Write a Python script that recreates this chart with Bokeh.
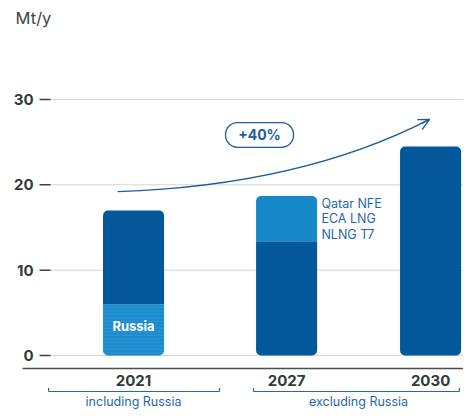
from bokeh.plotting import figure
from bokeh.models import Range1d, Arrow, OpenHead
from bokeh.core.properties import value
from bokeh.embed import file_html
from bokeh.resources import INLINE

# ---- data ----
years = ["2021", "2027", "2030"]
russia = [6.0, 0.0, 0.0]
existing = [11.0, 13.4, 24.5]
new_projects = [0.0, 5.3, 0.0]
y_ticks = [0, 10, 20, 30]
unit_label = "Mt/y"
growth_label = "+40%"
russia_label = "Russia"
new_labels = ["Qatar NFE", "ECA LNG", "NLNG T7"]
groups = ["including Russia", "excluding Russia"]
group_members = [["2021"], ["2027", "2030"]]

# ---- style ----
FONT = "Inter"
DARK = "#02589b"
LIGHT = "#1588c8"
RUSSIA = "#1a8bcc"
TXT = "#2f3b3b"
BLUE_TXT = "#1e67ad"
GRID = "#a8a8a8"

# layout: category positions (slightly wider gap between groups)
GROUP_GAP = 0.063
pos = [0.0, 1.0 + GROUP_GAP, 2.0 + GROUP_GAP]
BAR_W = 0.424
R = 5

X_MIN, X_MAX = -0.924, 2.2917
p = figure(width=463, height=410, x_range=Range1d(X_MIN, X_MAX),
           y_range=Range1d(-6.446, 41.6), min_border=0,
           x_axis_location=None, y_axis_location=None,
           toolbar_location=None, output_backend="svg")
p.grid.visible = False
p.outline_line_color = None
p.background_fill_color = "white"

X_LEFT_GRID = -0.576

# y gridlines, ticks, tick labels
p.segment(x0=[X_LEFT_GRID] * len(y_ticks), x1=[X_MAX] * len(y_ticks), y0=y_ticks, y1=y_ticks,
          line_color=GRID, line_width=1, line_dash="1 1")
p.segment(x0=[-0.653] * len(y_ticks), x1=[X_LEFT_GRID] * len(y_ticks), y0=y_ticks, y1=y_ticks,
          line_color="#3a4444", line_width=1.5)
p.text(x=[-0.694] * len(y_ticks), y=y_ticks, text=[str(t) for t in y_ticks],
       text_align="right", text_baseline="middle", text_font=value(FONT),
       text_font_style="bold", text_font_size="15px", text_color=TXT)

# unit label
p.text(x=[-0.819], y=[39.5], text=[unit_label], text_align="left", text_baseline="middle",
       text_font=value(FONT), text_font_size="16.5px", text_color="#3a4747")

# bars
for i, x in enumerate(pos):
    segs = []
    b = 0.0
    for val, col, hatch in ((russia[i], RUSSIA, True), (existing[i], DARK, False),
                            (new_projects[i], LIGHT, False)):
        if val > 0:
            segs.append((b, b + val, col, hatch))
            b += val
    for j, (b0, t0, col, hatch) in enumerate(segs):
        top_r = R if j == len(segs) - 1 else 0
        bot_r = R if j == 0 else 0
        kw = {}
        if hatch:
            kw = dict(hatch_pattern="-", hatch_color="#4aa8de", hatch_alpha=0.55,
                      hatch_scale=3.5, hatch_weight=0.8)
        p.vbar(x=[x], width=BAR_W, bottom=[b0], top=[t0], fill_color=col, line_color=None,
               border_radius=(top_r, top_r, bot_r, bot_r), **kw)

# Russia label
p.text(x=[pos[0]], y=[russia[0] / 2 + 0.5], text=[russia_label], text_align="center",
       text_baseline="middle", text_font=value(FONT), text_font_style="bold",
       text_font_size="13px", text_color="white")

# new projects labels
nl_y = [17.8, 16.05, 14.2]
p.text(x=[pos[1] + BAR_W / 2 + 0.03] * 3, y=nl_y, text=new_labels, text_align="left",
       text_baseline="middle", text_font=value(FONT), text_font_size="12.5px",
       text_color=BLUE_TXT)

# x axis line
p.segment(x0=[-0.771], x1=[X_MAX], y0=[-1.52], y1=[-1.52], line_color="#4a4f4f", line_width=1.5)
# year labels
p.text(x=pos, y=[-2.95] * 3, text=years, text_align="center", text_baseline="middle",
       text_font=value(FONT), text_font_style="bold", text_font_size="15px", text_color=TXT)

# group brackets + labels
BR_Y, BR_T = -4.22, -3.81
for g, members in zip(groups, group_members):
    xs = [pos[years.index(m)] for m in members]
    if len(xs) > 1:
        x0 = min(xs) - 0.23
        x1 = max(xs) + 0.2
    else:
        x0 = xs[0] - 0.59
        x1 = xs[0] + 0.597
    p.segment(x0=[x0, x0, x1], x1=[x1, x0, x1], y0=[BR_Y, BR_Y, BR_Y], y1=[BR_Y, BR_T, BR_T],
              line_color="#2467a8", line_width=1.2)
    p.text(x=[(min(xs) + max(xs)) / 2], y=[-6.3], text=[g], text_align="center",
           text_baseline="bottom", text_font=value(FONT), text_font_size="12.5px",
           text_color=BLUE_TXT)

# growth arrow
ax0, ay0 = -0.111, 19.2
acx, acy = 1.16, 19.9
ax1, ay1 = 2.056, 27.66
p.quadratic(x0=[ax0], y0=[ay0], cx=[acx], cy=[acy], x1=[ax1], y1=[ay1],
            line_color="#1c5d9e", line_width=1.4)
p.add_layout(Arrow(end=OpenHead(size=11, line_color="#1c5d9e", line_width=1.4),
                   x_start=ax1 - 0.06 * (ax1 - acx), y_start=ay1 - 0.06 * (ay1 - acy),
                   x_end=ax1, y_end=ay1, line_color="#1c5d9e", line_width=1.4))

# +40% pill
p.quad(left=[0.639], right=[1.111], top=[27.3], bottom=[24.4], fill_color="white",
       line_color="#1c5d9e", line_width=1.3, border_radius=12)
p.text(x=[0.875], y=[25.85], text=[growth_label], text_align="center", text_baseline="middle",
       text_font=value(FONT), text_font_style="bold", text_font_size="14px", text_color="#1c5d9e")

open("out.html", "w").write(file_html(p, INLINE))
